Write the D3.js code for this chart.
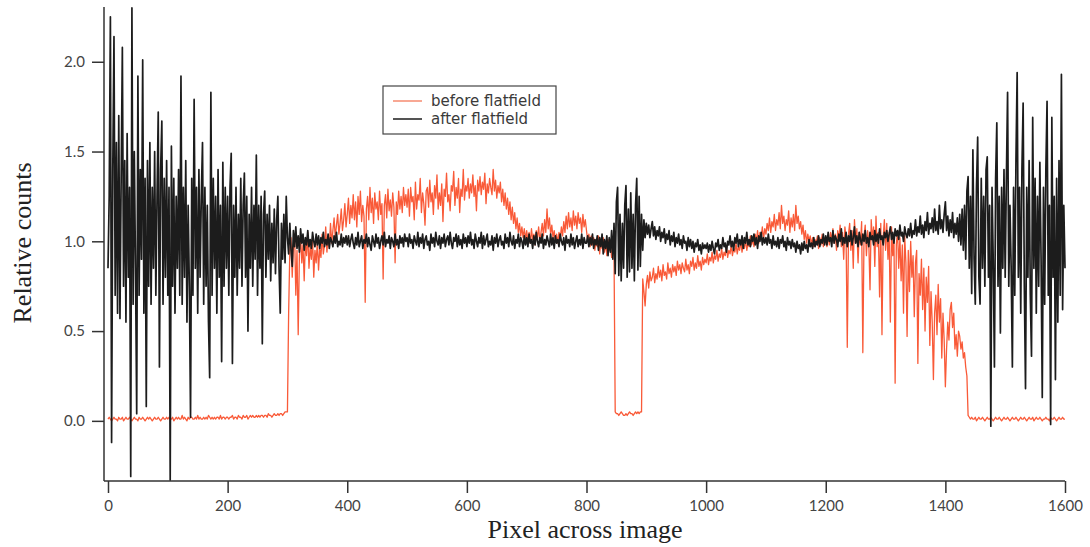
<!DOCTYPE html>
<html>
<head>
<meta charset="utf-8">
<script src="https://cdn.jsdelivr.net/npm/d3@7"></script>
<style>
  body { margin: 0; background: #fff; }
  svg { display: block; }
</style>
</head>
<body>
<div id="chart"></div>
<script>
// Width and height of the figure
const width = 1090;
const height = 547;

// Sampling step along the detector row (pixels); one row of values = 100 pixels
const pixelStep = 2;
const pixels = d3.range(0, 1601, pixelStep);

// Relative counts before flatfield correction
const beforeFlat = [
  0.01,0.02,0.01,0.00,0.01,0.02,0.01,0.01,0.00,0.02,0.01,0.01,0.02,0.00,0.01,0.02,0.01,0.01,0.02,0.01,0.00,0.01,0.02,0.01,0.01,0.00,0.02,0.01,0.01,0.02,0.01,0.00,0.01,0.02,0.01,0.02,0.01,0.00,0.01,0.02,0.01,0.01,0.02,0.01,0.00,0.01,0.02,0.01,0.01,0.02,
  0.01,0.02,0.01,0.01,0.02,0.00,0.01,0.02,0.01,0.02,0.01,0.01,0.03,0.01,0.02,0.01,0.00,0.02,0.01,0.02,0.02,0.01,0.01,0.02,0.01,0.03,0.01,0.02,0.01,0.01,0.02,0.01,0.02,0.01,0.03,0.02,0.01,0.02,0.01,0.02,0.01,0.02,0.02,0.01,0.03,0.01,0.02,0.02,0.01,0.02,
  0.02,0.01,0.02,0.02,0.03,0.01,0.02,0.02,0.01,0.03,0.02,0.02,0.01,0.03,0.02,0.02,0.03,0.01,0.02,0.03,0.02,0.03,0.02,0.02,0.03,0.02,0.03,0.02,0.03,0.03,0.02,0.03,0.03,0.02,0.04,0.03,0.03,0.02,0.03,0.04,0.03,0.03,0.04,0.03,0.04,0.04,0.03,0.04,0.05,0.05,
  0.05,0.60,0.95,1.02,0.80,0.98,1.04,0.70,0.95,0.48,0.92,1.03,0.88,0.98,0.78,1.00,0.92,1.05,0.85,0.97,0.90,1.02,0.80,0.95,0.88,1.00,0.84,0.96,0.91,1.04,0.93,0.98,1.08,0.94,1.03,0.97,1.10,0.99,1.06,1.13,1.02,1.09,1.15,1.04,1.10,1.18,1.06,1.12,1.21,1.08,
  1.15,1.24,1.10,1.20,1.13,1.26,1.12,1.22,1.08,1.25,1.15,1.28,1.11,1.20,1.14,0.66,1.18,1.25,1.12,1.30,1.16,1.24,1.10,1.27,1.18,1.22,1.12,1.28,1.15,1.21,0.79,1.20,1.26,1.13,1.29,1.17,1.23,1.14,1.27,1.19,0.88,1.22,1.15,1.28,1.18,1.25,1.16,1.30,1.20,1.26,
  1.19,1.29,1.14,1.30,1.22,1.25,1.12,1.33,1.18,1.26,1.23,1.35,1.16,1.27,1.21,1.09,1.28,1.30,1.19,1.34,1.22,1.27,1.15,1.31,1.24,1.37,1.18,1.27,1.20,1.32,1.11,1.29,1.25,1.38,1.22,1.26,1.17,1.31,1.28,1.39,1.20,1.30,1.24,1.35,1.16,1.29,1.25,1.40,1.23,1.31,
  1.28,1.35,1.24,1.32,1.27,1.37,1.25,1.31,1.17,1.34,1.28,1.36,1.26,1.33,1.29,1.38,1.21,1.32,1.27,1.35,1.30,1.26,1.40,1.28,1.34,1.24,1.31,1.27,1.33,1.22,1.29,1.20,1.27,1.18,1.24,1.15,1.22,1.12,1.19,1.10,1.16,1.07,1.13,1.05,1.10,1.03,1.08,1.02,1.07,1.01,
  1.06,1.00,1.05,0.99,1.07,1.01,1.04,0.98,1.06,1.02,1.08,1.00,1.05,1.10,1.03,1.12,1.05,1.18,1.07,1.13,1.04,1.09,1.02,1.06,1.00,1.04,0.99,1.05,1.01,1.08,1.03,1.11,1.05,1.14,1.07,1.16,1.08,1.13,1.06,1.17,1.09,1.14,1.07,1.16,1.10,1.13,1.05,1.15,1.08,1.12,
  1.06,1.00,1.04,0.97,1.03,0.98,1.02,0.95,1.01,0.97,1.03,0.93,1.00,0.96,1.02,0.94,0.99,0.92,1.01,0.95,0.98,0.91,0.97,0.93,0.05,0.04,0.04,0.03,0.04,0.05,0.04,0.03,0.03,0.04,0.03,0.04,0.05,0.04,0.04,0.03,0.04,0.05,0.04,0.05,0.04,0.05,0.05,0.79,0.72,0.64,
  0.76,0.81,0.74,0.83,0.78,0.80,0.85,0.77,0.82,0.79,0.86,0.80,0.84,0.78,0.87,0.81,0.83,0.79,0.88,0.82,0.85,0.80,0.87,0.83,0.86,0.81,0.89,0.84,0.87,0.82,0.88,0.85,0.83,0.90,0.84,0.87,0.82,0.89,0.86,0.91,0.84,0.88,0.85,0.92,0.86,0.89,0.84,0.91,0.87,0.90,
  0.88,0.93,0.87,0.91,0.89,0.94,0.88,0.92,0.90,0.95,0.89,0.93,0.91,0.96,0.90,0.94,0.92,0.97,0.91,0.95,0.93,0.98,0.92,0.96,0.94,0.99,0.93,0.97,0.95,1.00,0.94,0.98,0.96,1.01,0.95,0.99,0.97,1.03,0.98,1.01,0.97,1.04,1.00,1.06,0.99,1.05,1.02,1.08,1.01,1.07,
  1.04,1.10,1.06,1.13,1.05,1.11,1.08,1.15,1.06,1.12,1.09,1.16,1.07,1.20,1.10,1.14,1.06,1.12,1.09,1.17,1.05,1.13,1.08,1.15,1.06,1.20,1.10,1.14,1.07,1.11,1.04,1.09,1.01,1.06,0.99,1.04,1.00,1.03,0.98,1.02,0.97,1.01,0.99,1.03,0.96,1.02,0.98,1.04,0.97,1.01,
  1.00,0.97,1.03,0.98,1.05,1.00,1.07,0.99,1.04,0.95,1.06,1.01,1.09,0.97,1.05,0.90,1.08,1.02,0.41,1.04,1.10,0.95,1.06,0.85,1.12,1.00,1.07,0.88,1.05,0.98,1.11,0.38,1.03,1.09,0.92,1.06,0.99,0.73,1.12,1.01,1.08,0.86,1.14,0.97,1.05,0.69,1.10,0.48,1.02,1.12,
  0.95,1.10,0.90,1.05,0.55,1.08,0.92,1.04,0.21,0.98,1.06,0.85,1.02,0.78,0.98,0.60,1.03,0.88,0.47,0.95,0.72,1.00,0.80,0.92,0.58,0.88,0.95,0.32,0.82,0.70,0.90,0.62,0.85,0.50,0.80,0.66,0.86,0.42,0.72,0.55,0.23,0.60,0.70,0.48,0.76,0.55,0.68,0.35,0.60,0.45,
  0.19,0.40,0.55,0.45,0.62,0.66,0.52,0.60,0.40,0.48,0.36,0.50,0.47,0.40,0.44,0.35,0.38,0.30,0.25,0.03,0.02,0.01,0.02,0.01,0.01,0.02,0.00,0.01,0.02,0.01,0.01,0.02,0.01,0.00,0.01,0.02,0.01,0.01,0.02,0.01,0.00,0.01,0.02,0.01,0.01,0.02,0.01,0.00,0.01,0.02,
  0.01,0.01,0.02,0.01,0.00,0.01,0.02,0.01,0.01,0.02,0.01,0.00,0.01,0.02,0.01,0.01,0.02,0.01,0.00,0.01,0.02,0.01,0.01,0.02,0.00,0.01,0.02,0.01,0.01,0.02,0.01,0.00,0.01,0.01,0.02,0.01,0.01,0.00,0.02,0.01,0.01,0.02,0.01,0.00,0.01,0.02,0.01,0.01,0.02,0.01,
  0.01
];

// Relative counts after flatfield correction
const afterFlat = [
  0.85,1.25,2.25,-0.12,1.40,2.14,0.70,1.55,0.60,1.70,0.57,1.35,2.08,0.75,1.45,0.55,1.60,0.80,1.30,-0.31,2.30,0.65,1.50,0.85,0.04,1.92,0.70,1.40,0.90,2.01,0.60,1.35,0.08,1.45,0.75,1.55,0.65,1.30,0.85,1.50,0.70,1.25,1.72,0.30,1.40,1.67,0.65,1.35,0.80,1.45,
  0.70,1.30,-0.33,1.53,0.75,1.35,0.60,1.25,0.85,1.40,0.70,1.92,0.65,1.30,0.80,1.45,0.55,1.20,0.75,0.02,1.35,0.70,1.79,0.85,1.30,0.60,1.40,0.80,1.25,1.55,0.65,1.30,0.75,1.20,0.55,0.24,1.83,0.70,1.35,0.85,1.25,0.60,1.40,0.80,1.20,0.33,1.44,0.75,1.30,0.85,
  1.25,0.70,1.30,1.49,0.32,1.20,0.80,1.30,0.70,1.15,0.85,1.35,0.75,1.20,1.38,0.80,1.25,0.50,1.15,0.85,1.30,0.75,1.20,0.90,1.48,0.70,1.20,0.85,1.25,0.43,1.15,1.28,0.80,1.15,0.90,1.20,0.78,1.10,0.88,1.18,0.82,1.12,1.25,0.85,0.60,1.10,0.90,1.15,0.88,1.25,
  1.02,0.93,1.10,0.95,0.86,1.06,0.97,1.08,0.96,1.03,0.94,1.07,0.99,1.04,0.95,1.02,0.98,1.06,0.97,1.01,0.96,1.05,1.00,0.97,1.04,0.98,1.03,0.96,1.02,0.99,1.05,0.97,1.01,0.98,1.04,0.96,1.02,1.00,0.97,1.03,0.99,1.05,0.97,1.00,0.98,1.04,0.97,1.02,0.99,1.03,
  0.98,1.03,0.97,1.01,1.04,0.99,0.96,1.02,0.98,1.05,0.97,1.00,1.03,0.96,1.01,0.99,1.04,0.97,1.02,0.98,0.95,1.03,1.00,0.97,1.04,0.99,1.02,0.96,1.00,1.03,0.98,1.05,0.97,1.01,0.99,1.03,0.96,1.02,1.00,0.97,1.04,0.98,1.01,0.96,1.03,0.99,1.02,0.97,1.04,1.00,
  1.02,0.97,1.04,0.99,1.01,0.96,1.03,1.00,0.98,1.05,0.97,1.02,0.99,1.04,0.96,1.01,1.03,0.98,1.00,0.95,1.04,0.99,1.02,0.97,1.05,1.00,0.98,1.03,0.96,1.02,0.99,1.04,0.97,1.01,1.03,0.98,1.05,0.99,0.96,1.02,1.00,1.04,0.97,1.03,0.98,1.01,0.96,1.04,0.99,1.02,
  0.97,1.03,0.99,1.05,0.98,1.01,0.96,1.04,1.00,0.97,1.02,0.99,1.05,0.96,1.03,0.98,1.01,1.04,0.97,1.00,0.98,1.03,0.95,1.02,0.99,1.04,0.97,1.01,1.03,0.98,1.00,0.96,1.04,0.99,1.02,0.97,1.05,1.00,0.98,1.03,0.96,1.01,0.99,1.04,0.97,1.02,1.00,0.96,1.03,0.98,
  1.02,0.97,1.04,0.99,1.01,0.96,1.03,0.98,1.05,1.00,0.97,1.02,0.99,1.04,0.96,1.01,0.98,1.03,1.00,0.97,1.04,0.98,1.02,0.96,1.03,0.99,1.01,0.97,1.04,1.00,0.98,1.02,0.95,1.03,0.99,1.01,0.97,1.04,0.98,1.02,0.96,1.00,1.03,0.97,1.01,0.98,1.04,0.96,1.02,0.99,
  0.99,1.03,0.97,1.02,0.98,1.04,0.96,1.01,0.98,1.03,0.95,1.02,0.97,1.04,0.93,1.01,0.96,1.03,0.92,1.02,0.94,1.06,0.90,1.10,0.82,1.22,1.30,0.81,1.15,0.78,1.10,0.85,1.20,1.31,0.80,1.18,0.83,1.27,0.85,1.15,0.78,1.20,1.35,0.84,1.25,0.86,1.15,0.95,1.12,1.02,
  1.10,1.04,1.09,1.02,1.07,1.11,1.03,1.08,1.01,1.06,1.03,1.08,1.00,1.05,1.02,1.07,0.99,1.04,1.01,1.06,0.98,1.03,1.00,1.05,0.97,1.02,0.99,1.04,0.98,1.01,0.96,1.03,0.99,1.00,0.95,1.02,0.97,1.01,0.96,1.00,0.94,0.99,0.97,1.01,0.95,0.98,0.93,0.99,0.96,0.98,
  0.96,0.99,0.94,0.98,0.95,1.00,0.96,0.93,0.99,0.97,1.01,0.95,0.98,0.96,1.02,0.97,0.99,0.94,1.00,0.98,1.03,0.97,1.00,0.95,1.02,0.99,1.04,0.97,1.01,0.98,1.03,0.96,1.02,0.99,1.05,0.98,1.01,0.97,1.03,1.00,1.04,0.98,1.02,0.96,1.03,1.00,1.05,0.98,1.02,0.99,
  1.02,0.98,1.04,0.99,1.01,0.96,1.03,0.98,1.00,0.97,1.02,0.96,1.01,0.99,1.03,0.97,1.00,0.95,1.02,0.98,1.00,0.96,1.01,0.97,0.99,0.94,1.00,0.96,0.98,0.93,0.99,0.95,1.00,0.96,0.98,0.94,1.01,0.97,0.99,0.96,1.02,0.97,1.00,0.98,1.03,0.97,1.01,0.99,1.04,0.98,
  1.03,0.98,1.05,1.00,1.02,0.97,1.06,0.99,1.03,1.01,0.97,1.04,1.00,1.07,0.98,1.02,0.99,1.05,0.97,1.03,1.00,1.06,0.98,1.02,1.08,0.99,1.03,0.97,1.05,1.01,0.98,1.04,1.00,1.06,0.99,1.02,0.97,1.05,1.01,1.03,0.98,1.06,1.00,1.04,0.99,1.07,1.01,1.03,0.98,1.05,
  1.02,1.06,1.00,1.04,1.08,1.01,1.05,0.99,1.07,1.03,1.06,1.01,1.09,1.03,1.05,1.00,1.08,1.04,1.02,1.07,1.03,1.10,1.02,1.06,1.04,1.12,1.03,1.08,1.05,1.14,1.04,1.09,1.02,1.11,1.06,1.16,1.04,1.10,1.07,1.13,1.05,1.18,1.06,1.11,1.04,1.20,1.07,1.12,1.05,1.15,
  1.22,1.06,1.14,1.03,1.12,1.05,1.16,1.02,1.10,1.04,1.13,1.00,1.15,0.98,1.18,0.95,1.20,0.90,1.28,1.36,0.85,1.25,0.71,1.51,0.90,0.65,1.30,1.58,0.80,0.65,1.35,0.85,1.25,0.75,1.40,1.47,0.80,1.20,-0.03,1.30,0.90,0.30,1.35,1.66,0.75,1.25,0.49,1.30,0.85,1.40,
  0.80,1.35,1.83,0.75,1.20,0.85,0.30,1.30,0.70,1.45,1.94,0.80,1.30,0.60,1.40,1.77,0.75,0.18,1.30,0.80,1.45,0.70,0.36,1.69,0.85,1.35,0.60,1.25,0.75,1.44,0.90,0.13,1.30,0.65,1.40,1.78,0.70,1.20,-0.02,1.69,0.80,1.25,0.23,1.35,0.55,1.45,0.70,1.93,0.62,1.20,
  0.85
];

// Axis ticks
const xTicks = [0, 200, 400, 600, 800, 1000, 1200, 1400, 1600];
const yTicks = [0.0, 0.5, 1.0, 1.5, 2.0];

// Legend entries
const seriesNames = ["before flatfield", "after flatfield"];
const seriesColors = ["#f95a38", "#1c1c1c"];
const legendColors = ["#f7937a", "#2a2a2a"];

const x = d3.scaleLinear().domain([0, 1600]).range([108, 1065]);
const y = d3.scaleLinear().domain([-0.335, 2.305]).range([481, 7]);
const axisLeftX = 104;

const svg = d3.select("#chart")
    .append("svg")
    .attr("width", width)
    .attr("height", height);

// Curves: before flatfield underneath, after flatfield on top
const line = d3.line()
    .x((d, i) => x(pixels[i]))
    .y(d => y(d));

svg.append("path")
    .datum(beforeFlat)
    .attr("fill", "none")
    .attr("stroke", seriesColors[0])
    .attr("stroke-width", 1.3)
    .attr("stroke-linejoin", "round")
    .attr("d", line);

svg.append("path")
    .datum(afterFlat)
    .attr("fill", "none")
    .attr("stroke", seriesColors[1])
    .attr("stroke-width", 1.7)
    .attr("stroke-linejoin", "round")
    .attr("d", line);

// Axes
const tickFont = "Lato, 'Open Sans', sans-serif";
const axisColor = "#333";

const xAxis = svg.append("g")
    .attr("transform", `translate(0, ${y.range()[0]})`)
    .call(d3.axisBottom(x).tickValues(xTicks).tickSize(12).tickPadding(7).tickFormat(d3.format("d")));

const yAxis = svg.append("g")
    .attr("transform", `translate(${axisLeftX}, 0)`)
    .call(d3.axisLeft(y).tickValues(yTicks).tickSize(12).tickPadding(7).tickFormat(d3.format(".1f")));

[xAxis, yAxis].forEach(g => {
    g.select(".domain").remove();
    g.selectAll(".tick line").attr("stroke", axisColor).attr("stroke-width", 1.5);
    g.selectAll(".tick text")
        .attr("fill", "#444")
        .style("font-family", tickFont)
        .style("font-size", "15px");
});

// Axis lines (left axis sits slightly outside the x range)
svg.append("line")
    .attr("x1", axisLeftX).attr("x2", axisLeftX)
    .attr("y1", y.range()[1]).attr("y2", y.range()[0])
    .attr("stroke", axisColor).attr("stroke-width", 1.5);

svg.append("line")
    .attr("x1", axisLeftX).attr("x2", x.range()[1])
    .attr("y1", y.range()[0]).attr("y2", y.range()[0])
    .attr("stroke", axisColor).attr("stroke-width", 1.5);

// Axis titles
svg.append("text")
    .attr("x", 585)
    .attr("y", 538)
    .attr("text-anchor", "middle")
    .attr("fill", "#222")
    .style("font-family", "'Liberation Serif', 'DejaVu Serif', serif")
    .style("font-size", "26px")
    .text("Pixel across image");

svg.append("text")
    .attr("transform", "translate(31, 243) rotate(-90)")
    .attr("text-anchor", "middle")
    .attr("fill", "#222")
    .style("font-family", "'Liberation Serif', 'DejaVu Serif', serif")
    .style("font-size", "26px")
    .text("Relative counts");

// Legend
const legend = svg.append("g")
    .attr("transform", "translate(383, 86)");

legend.append("rect")
    .attr("width", 173)
    .attr("height", 48)
    .attr("fill", "#fff")
    .attr("stroke", "#444")
    .attr("stroke-width", 1.2);

const rows = legend.selectAll("g.row")
    .data(seriesNames)
    .enter()
    .append("g")
    .attr("class", "row")
    .attr("transform", (d, i) => `translate(0, ${15 + i * 18})`);

rows.append("line")
    .attr("x1", 10).attr("x2", 39)
    .attr("stroke", (d, i) => legendColors[i])
    .attr("stroke-width", 1.6);

rows.append("text")
    .attr("x", 48)
    .attr("dy", "0.35em")
    .attr("fill", "#3a3a3a")
    .style("font-family", "'DejaVu Sans', sans-serif")
    .style("font-size", "15px")
    .text(d => d);
</script>
</body>
</html>
